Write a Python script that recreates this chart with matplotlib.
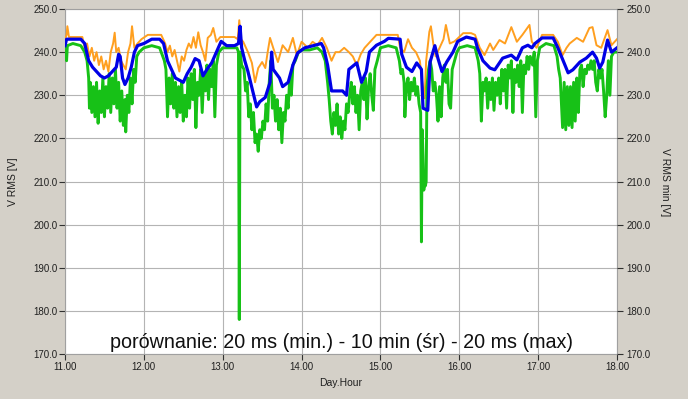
import matplotlib
matplotlib.use("Agg")
import matplotlib.pyplot as plt
from matplotlib.ticker import FormatStrFormatter, MultipleLocator

plt.rcParams['font.family'] = ['Liberation Sans', 'DejaVu Sans']

# ---- data (Day.Hour, volts) ----
blue_t = [11.00, 11.02, 11.10, 11.20, 11.25, 11.30, 11.35, 11.40, 11.45, 11.50, 11.55, 11.60, 11.65, 11.68, 11.70,
          11.73, 11.76, 11.80, 11.84, 11.88, 11.92, 12.00, 12.10, 12.20, 12.25, 12.30, 12.35, 12.40, 12.45, 12.50,
          12.55, 12.60, 12.65, 12.70, 12.75, 12.80, 12.86, 12.92, 12.98, 13.05, 13.15, 13.20, 13.22, 13.24, 13.28,
          13.32, 13.38, 13.43, 13.47, 13.54, 13.60, 13.62, 13.64, 13.68, 13.72, 13.76, 13.83, 13.89, 13.95, 14.04,
          14.15, 14.25, 14.28, 14.33, 14.38, 14.45, 14.52, 14.57, 14.60, 14.70, 14.76, 14.82, 14.86, 14.95, 15.05,
          15.10, 15.25, 15.27, 15.33, 15.40, 15.46, 15.52, 15.54, 15.60, 15.63, 15.69, 15.73, 15.78, 15.84, 15.92,
          15.98, 16.09, 16.20, 16.23, 16.30, 16.39, 16.45, 16.55, 16.66, 16.73, 16.80, 16.87, 16.92, 16.96, 17.05,
          17.19, 17.25, 17.34, 17.38, 17.44, 17.53, 17.61, 17.69, 17.74, 17.78, 17.82, 17.88, 17.93, 18.00]
blue_v = [241.5, 243, 243, 243, 242, 238, 236.5, 235.5, 234.5, 234, 234.5, 235.5, 236.5, 239.5, 239,
          234, 232.5, 234, 236.5, 240, 241.5, 242, 243, 243, 242, 238, 236, 234, 233.5, 233,
          235, 236.5, 238.5, 238, 234.5, 236, 237.5, 240, 242.5, 241.5, 241.5, 242, 246, 241, 238,
          235.5, 231, 227.3, 228.5, 229.5, 233, 240, 236, 235, 234, 232, 233, 237, 239.8, 241,
          241.5, 242, 241, 237, 231, 231, 231, 230, 236, 237.5, 233, 235.5, 240, 241.6, 242.5,
          243.2, 243, 239.5, 236.5, 235.5, 237.5, 236, 227, 226.5, 237.7, 241.5, 238.5, 235.5, 237.7, 240,
          242.5, 243.5, 243, 241, 238, 236.3, 235.9, 238.6, 239.3, 238.2, 241, 241.6, 241, 242, 243.3,
          243.3, 241, 237, 235.2, 235.9, 237.7, 238.6, 240, 238.6, 236.3, 237.7, 242.8, 240, 241]

orange_t = [11.00, 11.02, 11.03, 11.05, 11.15, 11.22, 11.25, 11.28, 11.31, 11.34, 11.37, 11.40, 11.43, 11.46, 11.49,
            11.52, 11.55, 11.58, 11.61, 11.63, 11.65, 11.68, 11.71, 11.74, 11.77, 11.80, 11.83, 11.85, 11.88, 11.92,
            11.97, 12.05, 12.15, 12.22, 12.27, 12.30, 12.33, 12.36, 12.39, 12.42, 12.45, 12.48, 12.51, 12.54, 12.57,
            12.60, 12.63, 12.66, 12.69, 12.72, 12.75, 12.78, 12.81, 12.85, 12.88, 12.92, 12.97, 13.05, 13.15, 13.19,
            13.21, 13.23, 13.26, 13.32, 13.37, 13.41, 13.45, 13.50, 13.54, 13.57, 13.60, 13.64, 13.70, 13.76, 13.83,
            13.89, 13.94, 14.00, 14.08, 14.14, 14.20, 14.26, 14.32, 14.38, 14.43, 14.48, 14.54, 14.60, 14.65, 14.70,
            14.75, 14.80, 14.85, 14.90, 14.95, 15.05, 15.15, 15.22, 15.25, 15.30, 15.35, 15.40, 15.45, 15.50, 15.53,
            15.56, 15.58, 15.62, 15.64, 15.67, 15.70, 15.75, 15.80, 15.83, 15.88, 15.94, 15.97, 16.05, 16.15, 16.20,
            16.26, 16.32, 16.39, 16.43, 16.51, 16.58, 16.66, 16.73, 16.80, 16.89, 16.92, 16.98, 17.05, 17.19, 17.25,
            17.31, 17.36, 17.40, 17.49, 17.57, 17.65, 17.69, 17.74, 17.80, 17.88, 17.93, 18.00]
orange_v = [243, 244, 246, 243.5, 243.5, 243.5, 241, 242, 239, 241, 238, 240, 237, 239, 236,
            238, 235.5, 240, 242, 244.5, 240, 241, 238, 237, 236, 240, 242, 246, 241, 242,
            243, 244, 244, 244, 242, 240, 241.5, 239, 240.5, 238, 235.5, 239, 238, 240.5, 242,
            241, 243.5, 241, 244.6, 241.6, 240, 238, 243.3, 244, 245.6, 242.4, 243.5, 243.5, 243.5, 243,
            247.4, 243, 242.4, 240, 237.5, 233, 236.3, 237.7, 236.3, 240, 243.3, 241, 237.7, 241.6, 240,
            243.3, 239.3, 242.4, 241, 242.4, 241.6, 243.3, 241, 238, 240, 240, 241, 240, 239, 237,
            239.5, 241, 242, 243, 244, 244, 244, 244, 241, 240, 243, 241, 240, 238, 233,
            229.3, 238, 244.7, 246, 242, 239, 241, 243, 246.3, 242, 242.5, 243, 244.4, 244.4, 244,
            241, 239.3, 242, 240.5, 242.8, 242, 245.8, 242.4, 244, 246.3, 242.4, 241, 244, 244, 242.4,
            239.3, 241, 242, 243.3, 242.4, 245.6, 245.8, 241.6, 241, 245.1, 241.6, 243]

green_t = [11.00, 11.01, 11.02, 11.03, 11.10, 11.20, 11.25, 11.28, 11.30, 11.31, 11.32, 11.34, 11.36, 11.38, 11.40,
           11.42, 11.44, 11.46, 11.48, 11.50, 11.52, 11.54, 11.56, 11.58, 11.60, 11.62, 11.64, 11.66, 11.68, 11.70,
           11.72, 11.74, 11.76, 11.77, 11.79, 11.81, 11.83, 11.85, 11.87, 11.89, 11.91, 11.94, 12.00, 12.10, 12.20,
           12.26, 12.28, 12.30, 12.32, 12.34, 12.36, 12.38, 12.40, 12.42, 12.44, 12.46, 12.48, 12.50, 12.52, 12.54,
           12.56, 12.58, 12.60, 12.62, 12.64, 12.66, 12.68, 12.70, 12.72, 12.74, 12.76, 12.78, 12.80, 12.82, 12.84,
           12.86, 12.88, 12.90, 12.92, 12.95, 13.00, 13.10, 13.18, 13.20, 13.21, 13.22, 13.24, 13.27, 13.29, 13.31,
           13.33, 13.35, 13.37, 13.39, 13.41, 13.43, 13.45, 13.47, 13.49, 13.51, 13.53, 13.55, 13.57, 13.59, 13.61,
           13.63, 13.65, 13.67, 13.69, 13.71, 13.73, 13.75, 13.77, 13.79, 13.81, 13.83, 13.85, 13.87, 13.89, 13.92,
           13.96, 14.00, 14.10, 14.20, 14.26, 14.30, 14.33, 14.35, 14.37, 14.39, 14.41, 14.43, 14.45, 14.47, 14.49,
           14.51, 14.53, 14.55, 14.57, 14.59, 14.61, 14.63, 14.65, 14.67, 14.69, 14.71, 14.73, 14.75, 14.77, 14.79,
           14.81, 14.83, 14.85, 14.87, 14.89, 14.91, 14.93, 14.96, 15.00, 15.10, 15.20, 15.24, 15.26, 15.28, 15.30,
           15.31, 15.33, 15.35, 15.37, 15.39, 15.41, 15.43, 15.45, 15.47, 15.49, 15.51, 15.52, 15.53, 15.54, 15.55,
           15.56, 15.57, 15.58, 15.59, 15.61, 15.63, 15.65, 15.67, 15.69, 15.71, 15.73, 15.75, 15.77, 15.79, 15.81,
           15.83, 15.85, 15.87, 15.89, 15.91, 15.94, 15.97, 16.00, 16.10, 16.20, 16.24, 16.26, 16.28, 16.30, 16.32,
           16.34, 16.36, 16.38, 16.40, 16.42, 16.44, 16.46, 16.48, 16.50, 16.52, 16.54, 16.56, 16.58, 16.60, 16.62,
           16.64, 16.66, 16.68, 16.70, 16.72, 16.74, 16.76, 16.78, 16.80, 16.82, 16.84, 16.86, 16.88, 16.90, 16.93,
           16.95, 16.97, 16.99, 17.02, 17.10, 17.20, 17.24, 17.26, 17.28, 17.30, 17.31, 17.33, 17.35, 17.37, 17.39,
           17.41, 17.43, 17.45, 17.47, 17.49, 17.51, 17.53, 17.55, 17.57, 17.59, 17.61, 17.63, 17.65, 17.67, 17.69,
           17.71, 17.73, 17.75, 17.77, 17.79, 17.81, 17.83, 17.85, 17.87, 17.89, 17.91, 17.93, 17.96, 18.00]
green_v = [240, 241, 238, 241.5, 242, 241.5, 240, 238, 234, 227, 233, 226, 232, 225, 233,
           223.5, 231, 226, 234, 225, 232, 227, 235, 226, 234, 228, 236, 227, 233, 224,
           231, 223, 229, 221.5, 230, 226, 234, 228, 236, 233, 239, 240, 241, 241.5, 241,
           238, 236, 225, 234, 228, 235, 227, 233, 225, 232, 226, 233, 224, 230, 225,
           234, 227, 235, 229, 236, 222.5, 233, 230, 236, 226, 235, 231, 237, 229, 236,
           232, 238, 225, 237, 240, 241, 241, 241, 240, 178, 240, 237, 236, 231, 233,
           225, 228, 222, 226, 219, 221, 217, 222, 220, 224, 222, 228, 224, 233, 238,
           227, 230, 224, 229, 222, 227, 219, 226, 224, 230, 227, 234, 230, 237, 238,
           240, 240.5, 240.5, 241, 240, 238, 233, 229, 224, 221, 226, 223, 228, 221, 225,
           220, 224, 222, 228, 226, 230, 233, 228, 232, 226, 230, 222, 231, 233, 229,
           234, 224.5, 232, 235, 230, 226.5, 236, 238, 241, 241.5, 241, 238, 235, 236, 233,
           225, 232, 234, 229, 233, 231, 234, 230, 232, 228, 226, 196, 222, 216, 208,
           210, 209, 210, 232, 236, 238, 236, 231, 233, 230, 224, 232, 225, 234, 237,
           233, 236, 228, 227, 236, 238, 240, 241, 241.5, 241, 238, 235, 224, 233, 231,
           234, 227, 233, 229, 234, 226.5, 233, 230, 234, 228, 236, 231, 236, 227, 237,
           234, 238, 226, 236, 233, 237, 232, 238, 226, 237, 235, 239, 236, 239, 237,
           240, 225, 238, 241, 242, 241.5, 239, 236, 234, 226, 222.5, 233, 222, 232, 223,
           232, 222.5, 233, 224, 234, 226, 236, 237, 232, 236, 235, 237, 236, 238, 236,
           238, 233, 231, 236, 234, 236, 231, 225, 230, 238, 230, 239, 240, 240]

x_ticks = [11.00, 12.00, 13.00, 14.00, 15.00, 16.00, 17.00, 18.00]
y_lim = (170, 250)

title_text = "porównanie: 20 ms (min.) - 10 min (śr) - 20 ms (max)"

# ---- figure ----
bg = '#d4d0c8'
fig = plt.figure(figsize=(6.88, 3.99), dpi=100, facecolor=bg)
ax = fig.add_axes([65/688, 1-354/399, (617-65)/688, (354-9)/399])
ax.set_facecolor('white')

ax.plot(orange_t, orange_v, color='#ff9f1f', lw=1.4, zorder=3)
ax.plot(green_t, green_v, color='#17c117', lw=2.1, zorder=4)
ax.plot(blue_t, blue_v, color='#0000e6', lw=2.3, zorder=5)

ax.set_xlim(11.0, 18.0)
ax.set_ylim(*y_lim)
ax.set_xticks(x_ticks)
ax.yaxis.set_major_locator(MultipleLocator(10))
ax.xaxis.set_major_formatter(FormatStrFormatter('%.2f'))
ax.yaxis.set_major_formatter(FormatStrFormatter('%.1f'))
ax.grid(True, color='#b4b4b4', lw=0.8, zorder=1)
ax.set_axisbelow(True)
for s in ax.spines.values():
    s.set_color('#a0a0a0')
    s.set_linewidth(0.8)

ax.tick_params(axis='both', direction='out', length=4, width=0.8, colors='#303030',
               labelsize=7, labelcolor='#202020', pad=1.5)

ax2 = ax.twinx()
ax2.set_ylim(*y_lim)
ax2.yaxis.set_major_locator(MultipleLocator(10))
ax2.yaxis.set_major_formatter(FormatStrFormatter('%.1f'))
ax2.tick_params(axis='y', direction='out', length=4, width=0.8, colors='#303030',
                labelsize=7, labelcolor='#202020', pad=3)
for s in ax2.spines.values():
    s.set_visible(False)

fig.text(13/688, 1-182/399, 'V RMS [V]', rotation=90, ha='center', va='center', fontsize=7.5, color='#202020')
fig.text(665/688, 1-182/399, 'V RMS min [V]', rotation=270, ha='center', va='center', fontsize=7.5, color='#202020')
fig.text(341/688, 1-383/399, 'Day.Hour', ha='center', va='center', fontsize=7.5, color='#202020')

ax.text(0.5, 6/345, title_text, transform=ax.transAxes, ha='center', va='baseline',
        fontsize=14.2, color='#101010', zorder=6)

fig.savefig('out.png', dpi=100, facecolor=bg)
